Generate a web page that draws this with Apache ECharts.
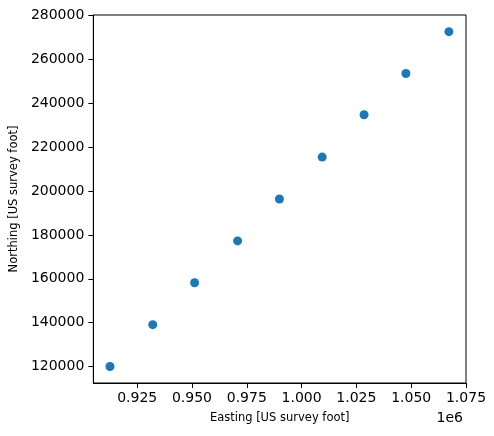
<!DOCTYPE html>
<html><head><meta charset="utf-8">
<script src="https://cdn.jsdelivr.net/npm/echarts@6/dist/echarts.min.js"></script>
<style>html,body{margin:0;padding:0;background:#fff}#c{width:494px;height:436px}</style>
</head><body><div id="c"></div>
<script>
const easting = [912600, 932100, 951200, 970800, 989900, 1009400, 1028500, 1047600, 1067200];
const northing = [120000, 139100, 158200, 177300, 196400, 215500, 234800, 253600, 272700];
const xTicks = [925000, 950000, 975000, 1000000, 1025000, 1050000, 1075000];
const yTicks = [120000, 140000, 160000, 180000, 200000, 220000, 240000, 260000, 280000];
const xLabel = 'Easting [US survey foot]';
const yLabel = 'Northing [US survey foot]';
const xOffsetText = '1e6';

const chart = echarts.init(document.getElementById('c'));
const font = 'DejaVu Sans';
chart.setOption({
  animation: false,
  textStyle: {fontFamily: font},
  grid: {left: 92, right: 28, top: 15, bottom: 53, show: true, borderColor: '#000', borderWidth: 1, backgroundColor: 'transparent'},
  xAxis: {
    type: 'value', min: 905000, max: 1075000,
    name: xLabel, nameLocation: 'middle', nameGap: 29,
    nameTextStyle: {fontFamily: font, fontSize: 11.5, color: '#000'},
    axisLine: {show: true, lineStyle: {color: '#000', width: 1}},
    axisTick: {show: true, length: 5, lineStyle: {color: '#000'}, customValues: xTicks},
    axisLabel: {color: '#000', fontSize: 14, fontFamily: font, margin: 8, customValues: xTicks,
      formatter: v => (v / 1e6).toFixed(3)},
    splitLine: {show: false}
  },
  yAxis: {
    type: 'value', min: 112500, max: 280300,
    name: yLabel, nameLocation: 'middle', nameGap: 72,
    nameTextStyle: {fontFamily: font, fontSize: 11.5, color: '#000'},
    axisLine: {show: true, lineStyle: {color: '#000', width: 1}},
    axisTick: {show: true, length: 5, lineStyle: {color: '#000'}, customValues: yTicks},
    axisLabel: {color: '#000', fontSize: 14, fontFamily: font, margin: 9, customValues: yTicks,
      formatter: v => String(v)},
    splitLine: {show: false}
  },
  graphic: [{
    type: 'text', right: 31, top: 411,
    style: {text: xOffsetText, font: '14px "DejaVu Sans"', fill: '#000'}
  }],
  series: [{
    type: 'scatter', symbol: 'circle', symbolSize: 9,
    itemStyle: {color: '#1f77b4', opacity: 1},
    data: easting.map((x, i) => [x, northing[i]])
  }]
});
</script></body></html>
